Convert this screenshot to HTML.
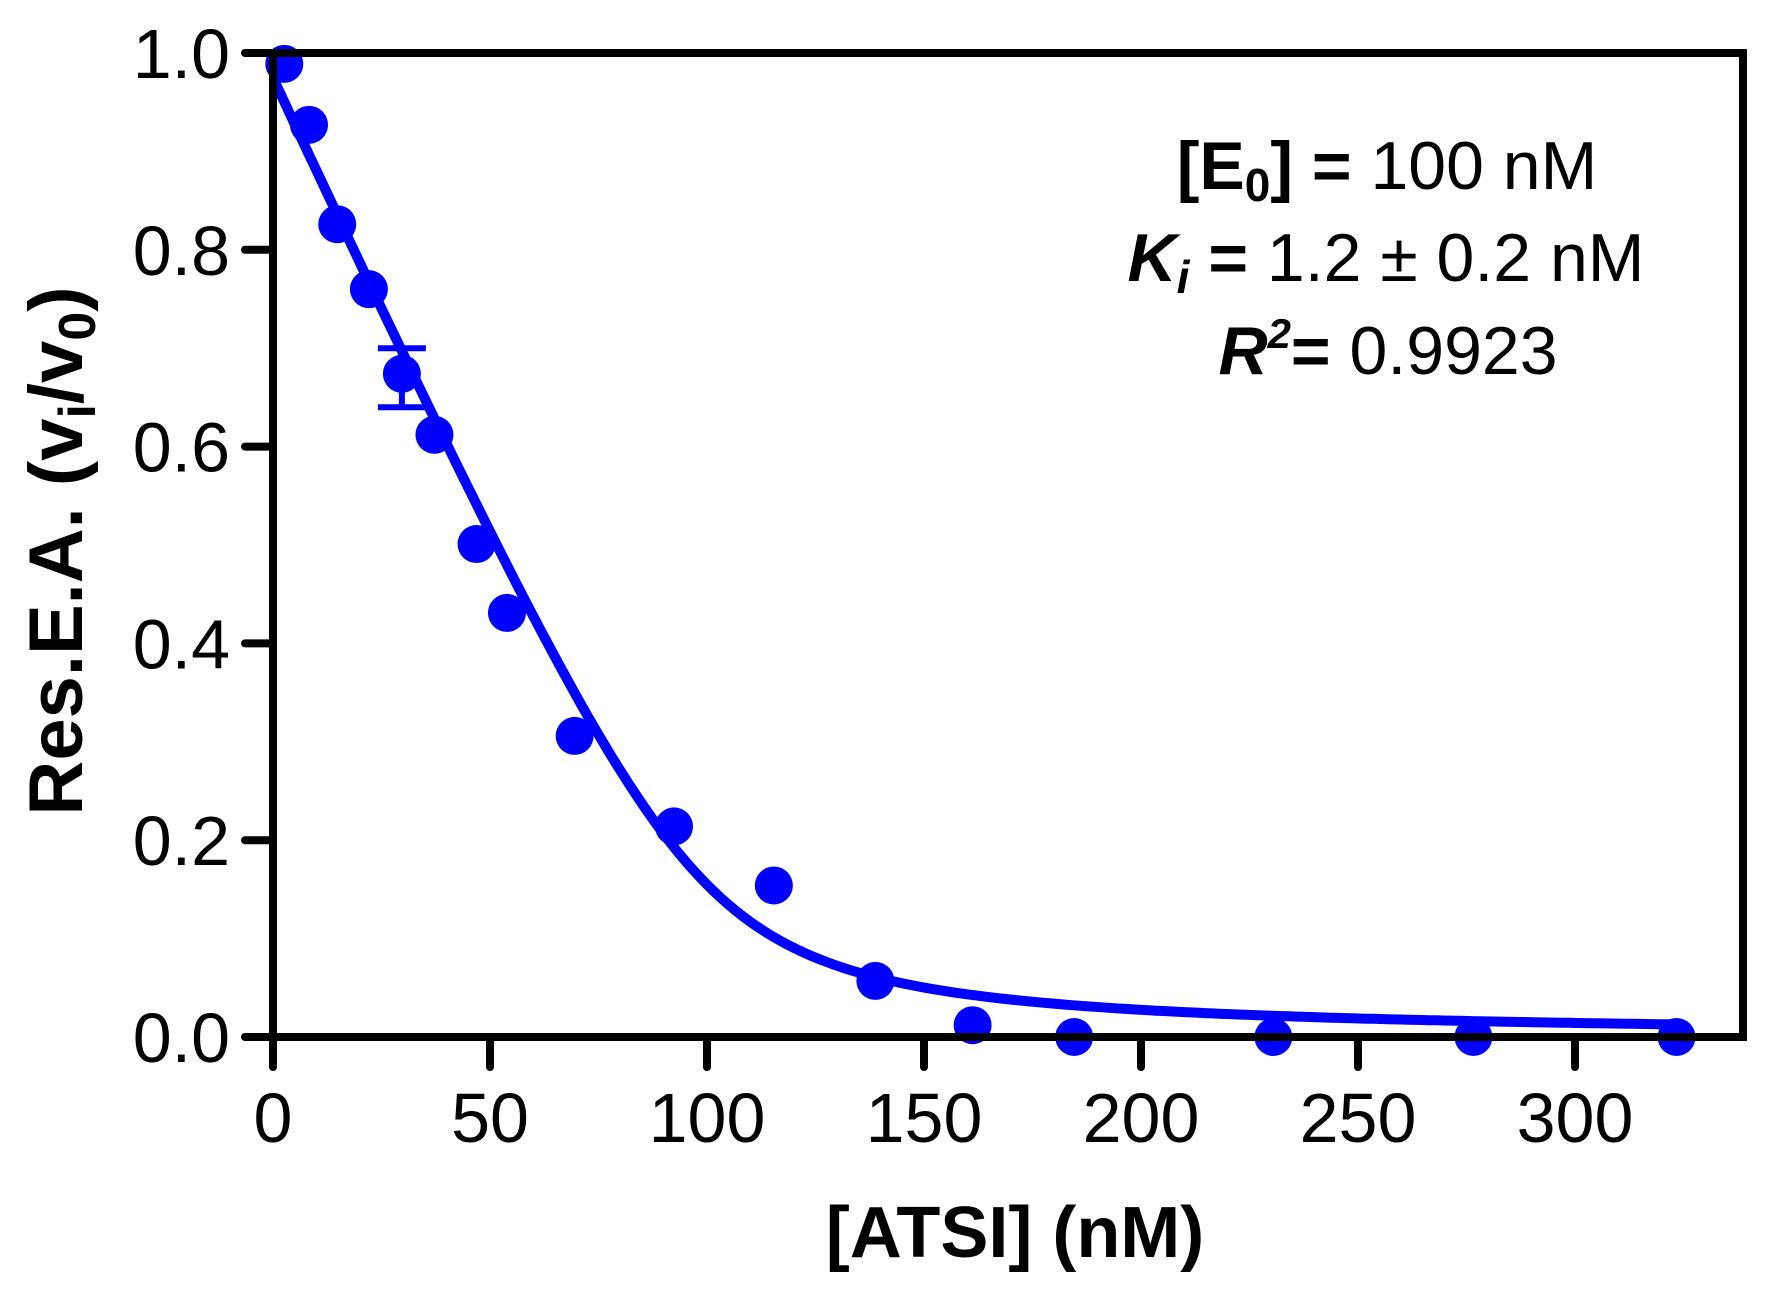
<!DOCTYPE html>
<html><head><meta charset="utf-8"><style>
html,body{margin:0;padding:0;background:#fff}
svg{display:block}
text{font-family:"Liberation Sans","DejaVu Sans",sans-serif}
</style></head><body>
<svg id="chart" width="1765" height="1295" viewBox="0 0 1765 1295" xmlns="http://www.w3.org/2000/svg">
<g id="plot"></g>
<g id="axes"></g>
<g text-anchor="middle" font-size="68">
<text x="1387" y="189"><tspan font-weight="bold">[E</tspan><tspan font-weight="bold" font-size="46" dy="12">0</tspan><tspan font-weight="bold" dy="-12">] =</tspan> 100 nM</text>
<text x="1386" y="281"><tspan font-weight="bold" font-style="italic">K</tspan><tspan font-weight="bold" font-style="italic" font-size="46" dy="12">i</tspan><tspan font-weight="bold" dy="-12"> =</tspan> 1.2 ± 0.2 nM</text>
<text x="1388" y="374"><tspan font-weight="bold" font-style="italic">R</tspan><tspan font-weight="bold" font-style="italic" font-size="42" dy="-26">2</tspan><tspan font-weight="bold" dy="26">=</tspan> 0.9923</text>
</g>
<text transform="translate(82,551) rotate(-90)" text-anchor="middle" font-size="76" font-weight="bold">Res.E.A. (v<tspan font-size="52" dy="13">i</tspan><tspan dy="-13">/v</tspan><tspan font-size="52" dy="13">0</tspan><tspan dy="-13">)</tspan></text>
<text x="1015" y="1257" text-anchor="middle" font-size="72" font-weight="bold">[ATSI] (nM)</text>
</svg>
<script>
const xTicks=[0,50,100,150,200,250,300];
const yTicks=[0,0.2,0.4,0.6,0.8,1.0];
const yTickLabels=["0.0","0.2","0.4","0.6","0.8","1.0"];
const concentrations=[2.6,8.3,14.8,22.1,29.7,37.2,46.9,53.9,69.5,92.4,115.4,138.8,161.2,184.6,230.5,276.6,323.4];
const activity=[0.989,0.927,0.826,0.760,0.674,0.612,0.501,0.431,0.306,0.214,0.154,0.057,0.012,0.0,0.0,0.0,0.0];
const errLow=[null,null,null,null,0.64,null,null,null,null,null,null,null,null,null,null,null,null];
const errHigh=[null,null,null,null,0.70,null,null,null,null,null,null,null,null,null,null,null,null];
const fitE0=[100];
const fitKapp=[3.0];
const fitTop=[0.975];
const fitXmax=[323];

const X0=273,XS=4.34,Y0=1037,YS=984;
const sx=v=>X0+v*XS, sy=v=>Y0-v*YS;
const NS='http://www.w3.org/2000/svg';
const plot=document.getElementById('plot'), axes=document.getElementById('axes');
function mk(tag,attrs,parent){const e=document.createElementNS(NS,tag);for(const k in attrs)e.setAttribute(k,attrs[k]);parent.appendChild(e);return e;}

const fr=mk('path',{d:`M${sx(0)} ${sy(1)} H1743 V${sy(0)} H${sx(0)} Z`,fill:'none',stroke:'#000','stroke-width':8,'stroke-linejoin':'miter'},axes);


xTicks.forEach(t=>{
  const l=mk('line',{x1:sx(t),x2:sx(t),y1:sy(0),y2:1067,stroke:'#000','stroke-width':8,'stroke-linecap':'round'},axes);
  
  
  const tx=mk('text',{x:sx(t),y:1142,'text-anchor':'middle','font-size':70},axes);
  tx.textContent=t;
  
  
});
yTicks.forEach((t,i)=>{
  const l=mk('line',{x1:245,x2:sx(0),y1:sy(t),y2:sy(t),stroke:'#000','stroke-width':8,'stroke-linecap':'round'},axes);
  
  
  const tx=mk('text',{x:230,y:sy(t)+25,'text-anchor':'end','font-size':70},axes);
  tx.textContent=yTickLabels[i];
  
  
});
function morrison(I){const E=fitE0[0],K=fitKapp[0],S=E+I+K;return fitTop[0]*(1-(S-Math.sqrt(S*S-4*E*I))/(2*E));}
let d='';
for(let i=0;i<=200;i++){const I=fitXmax[0]*i/200;d+=(i?'L':'M')+sx(I).toFixed(1)+' '+sy(morrison(I)).toFixed(1);}
const c=mk('path',{d:d,fill:'none',stroke:'#0000ff','stroke-width':10},plot);


concentrations.forEach((x,i)=>{
  if(errLow[i]==null)return;
  const g=mk('g',{stroke:'#0000ff','stroke-width':6},plot);
  
  
  mk('line',{x1:sx(x),x2:sx(x),y1:sy(errLow[i]),y2:sy(errHigh[i])},g);
  mk('line',{x1:sx(x)-24,x2:sx(x)+24,y1:sy(errLow[i]),y2:sy(errLow[i])},g);
  mk('line',{x1:sx(x)-24,x2:sx(x)+24,y1:sy(errHigh[i]),y2:sy(errHigh[i])},g);
});
concentrations.forEach((x,i)=>{
  const p=mk('circle',{cx:sx(x),cy:sy(activity[i]),r:19,fill:'#0000ff'},plot);
  
  
});
</script>
</body></html>
